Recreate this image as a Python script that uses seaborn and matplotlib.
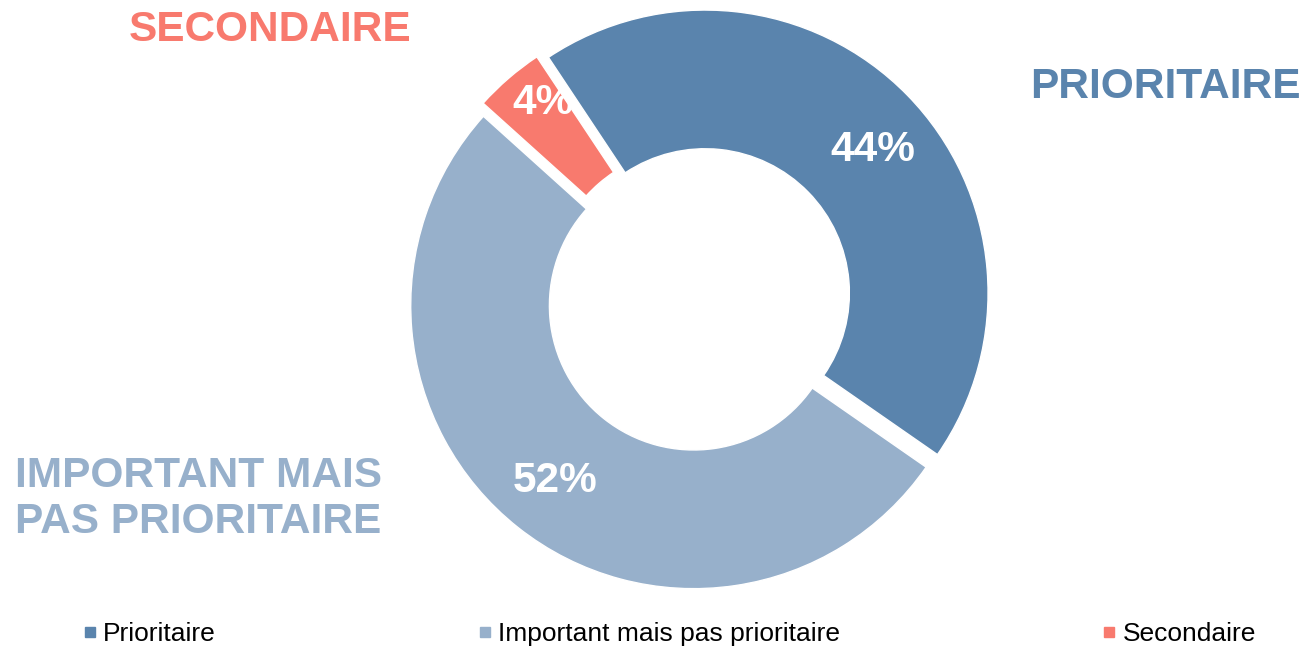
import matplotlib
matplotlib.use("Agg")
import matplotlib.pyplot as plt
import seaborn as sns
from matplotlib.lines import Line2D
import numpy as np

# --- data ---
categories = ["Prioritaire", "Important mais pas prioritaire", "Secondaire"]
shares = [44, 52, 4]
callouts = ["PRIORITAIRE", "IMPORTANT MAIS\nPAS PRIORITAIRE", "SECONDAIRE"]
colors = ["#5A84AD", "#97B0CB", "#F87A6E"]

sns.set_theme(style="white")
plt.rcParams["font.family"] = ["Liberation Sans", "DejaVu Sans"]

W, H = 1303, 646
fig = plt.figure(figsize=(W / 100, H / 100), dpi=100)
ax = fig.add_axes([0, 0, 1, 1])

wedges, _ = ax.pie(
    shares,
    colors=colors,
    startangle=123.6,
    counterclock=False,
    explode=[0.03, 0.03, 0.03],
    radius=1.0,
    wedgeprops=dict(width=0.49, edgecolor="white", linewidth=1),
)

# donut centre / radius in pixels -> axis limits (set after pie)
cx, cy, R = 699, 299, 283
ax.set_aspect("auto")
ax.set_xlim(-cx / R, (W - cx) / R)
ax.set_ylim(-(H - cy) / R, cy / R)
ax.axis("off")

# percentage labels inside each ring segment
pct_radius = [0.78, 0.79, 0.855]
pct_shift = [-4, 0, -2.4]   # degrees, nudges to match the original layout
for w, val, r, s in zip(wedges, shares, pct_radius, pct_shift):
    mid = np.deg2rad((w.theta1 + w.theta2) / 2 + s)
    x0, y0 = w.center
    ax.text(x0 + r * np.cos(mid), y0 + r * np.sin(mid), f"{val}%",
            ha="center", va="center", color="white", fontsize=30.5,
            fontweight="bold")

# big coloured callouts
fig.text(1165 / W, 1 - 87 / H, callouts[0], color=colors[0], fontsize=30.5,
         fontweight="bold", ha="center", va="center")
fig.text(15 / W, 1 - 499 / H, callouts[1], color=colors[1], fontsize=30.5,
         fontweight="bold", ha="left", va="center", linespacing=1.2)
fig.text(270 / W, 1 - 30 / H, callouts[2], color=colors[2], fontsize=30.5,
         fontweight="bold", ha="center", va="center")

# legend
handles = [Line2D([0], [0], marker="s", linestyle="none", markersize=6.5,
                  markerfacecolor=c, markeredgecolor=c) for c in colors]
fig.legend(handles, categories, loc="center left", ncol=3,
           bbox_to_anchor=(82 / W, 1 - 634 / H), frameon=False,
           fontsize=19, labelcolor="black", handlelength=0.6,
           handletextpad=0.2, columnspacing=9.9, borderaxespad=0,
           borderpad=0)

fig.savefig("out.png", dpi=100)
